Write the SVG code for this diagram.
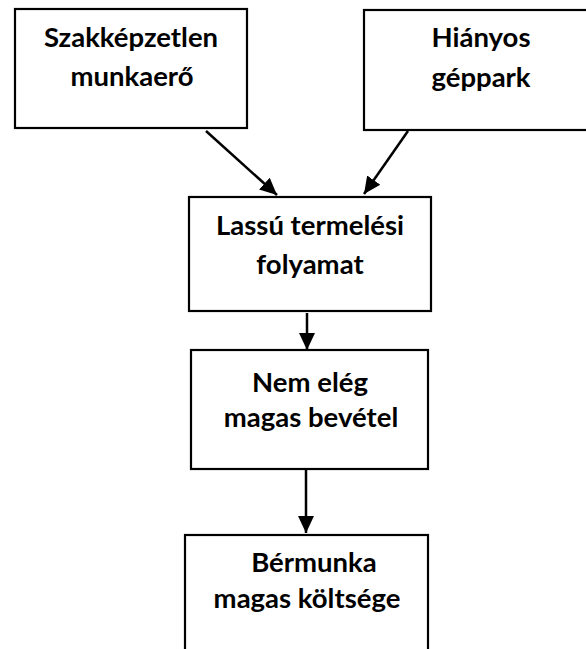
<svg xmlns="http://www.w3.org/2000/svg" width="586" height="649" viewBox="0 0 586 649">
  <style>
    .box { fill: #ffffff; stroke: #000000; stroke-width: 2.2; }
    .label { font-family: Lato, "Open Sans", "Liberation Sans", sans-serif; font-weight: bold; font-size: 27.5px; fill: #000000; text-anchor: middle; }
    .link { stroke: #000000; stroke-width: 2.5; fill: none; marker-end: url(#head); }
  </style>
  <defs>
    <marker id="head" markerUnits="userSpaceOnUse" markerWidth="18" markerHeight="18" viewBox="0 0 18 18" refX="17" refY="9" orient="auto">
      <path d="M0,1 L17,9 L0,17 Z" fill="#000000"/>
    </marker>
  </defs>
  <rect width="586" height="649" fill="#ffffff"/>

  <g id="node-szakkepzetlen">
    <rect class="box" x="15" y="9" width="232" height="119"/>
    <text class="label" x="131" y="47">Szakképzetlen</text>
    <text class="label" x="132" y="86">munkaerő</text>
  </g>

  <g id="node-hianyos">
    <rect class="box" x="364" y="10" width="234" height="120"/>
    <text class="label" x="481" y="47">Hiányos</text>
    <text class="label" x="481" y="87">géppark</text>
  </g>

  <g id="node-lassu">
    <rect class="box" x="189" y="197" width="242" height="114"/>
    <text class="label" x="310" y="235">Lassú termelési</text>
    <text class="label" x="310" y="274">folyamat</text>
  </g>

  <g id="node-bevetel">
    <rect class="box" x="191" y="350" width="237" height="119"/>
    <text class="label" x="310" y="392">Nem elég</text>
    <text class="label" x="311" y="427">magas bevétel</text>
  </g>

  <g id="node-bermunka">
    <rect class="box" x="185" y="535" width="243" height="130"/>
    <text class="label" x="314" y="572">Bérmunka</text>
    <text class="label" x="307" y="608">magas költsége</text>
  </g>

  <g id="connectors">
    <line class="link" x1="206" y1="131" x2="277" y2="195"/>
    <line class="link" x1="408" y1="131" x2="364" y2="194"/>
    <line class="link" x1="307" y1="313" x2="307" y2="350"/>
    <line class="link" x1="306" y1="469" x2="306" y2="533"/>
  </g>
</svg>
